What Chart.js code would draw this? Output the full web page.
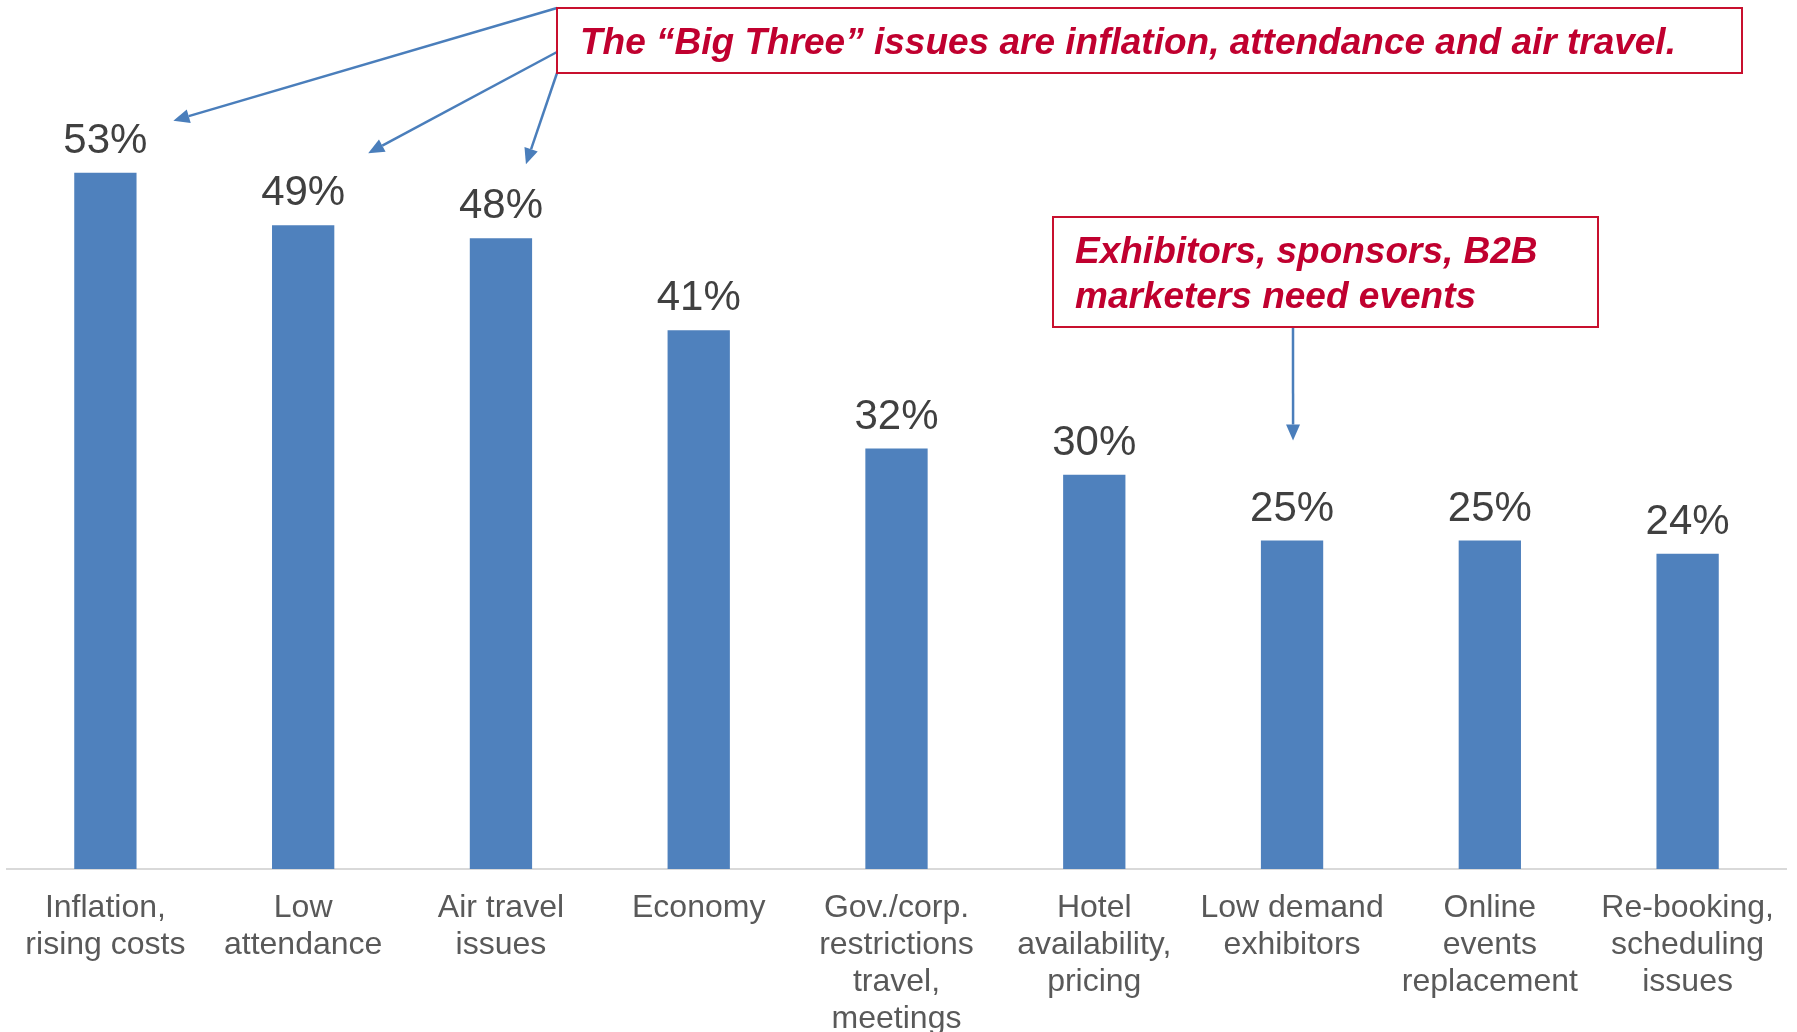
<!DOCTYPE html>
<html>
<head>
<meta charset="utf-8">
<script src="https://cdn.jsdelivr.net/npm/chart.js@4.4.1/dist/chart.umd.min.js"></script>
<style>
  html, body { margin: 0; padding: 0; background: #fff; }
  canvas { display: block; }
</style>
</head>
<body>
<canvas id="issuesChart" width="1797" height="1032"></canvas>
<script>
// Top issues facing events (share of respondents, %)
var categories = [
    ['Inflation,', 'rising costs'],
    ['Low', 'attendance'],
    ['Air travel', 'issues'],
    'Economy',
    ['Gov./corp.', 'restrictions', 'travel,', 'meetings'],
    ['Hotel', 'availability,', 'pricing'],
    ['Low demand', 'exhibitors'],
    ['Online', 'events', 'replacement'],
    ['Re-booking,', 'scheduling', 'issues']
];
var shares = [53, 49, 48, 41, 32, 30, 25, 25, 24];

var bigThreeNote = ['The \u201CBig Three\u201D issues are inflation, attendance and air travel.'];
var exhibitorNote = ['Exhibitors, sponsors, B2B', 'marketers need events'];

var FONT = '"Liberation Sans", Arial, sans-serif';
var NOTE_RED = '#C0002F';
var ARROW_BLUE = '#4A7EBB';

// callout boxes, with arrows pointing at bars (offsets from the bar top)
var callouts = [
    {
        box: { x: 557, y: 8, w: 1185, h: 65 },
        lines: bigThreeNote, textX: 580, baselines: [54],
        arrows: [
            { from: [557, 8], bar: 0, dx: 68, dy: -52 },
            { from: [557, 52], bar: 1, dx: 65, dy: -72 },
            { from: [557, 73], bar: 2, dx: 25, dy: -74 }
        ]
    },
    {
        box: { x: 1053, y: 217, w: 545, h: 110 },
        lines: exhibitorNote, textX: 1075, baselines: [263, 308],
        arrows: [
            { from: [1293, 327], bar: 6, dx: 1, dy: -100 }
        ]
    }
];

function drawArrow(ctx, x1, y1, x2, y2) {
    var a = Math.atan2(y2 - y1, x2 - x1);
    var len = 16, half = 7;
    var bx = x2 - len * Math.cos(a), by = y2 - len * Math.sin(a);
    ctx.beginPath();
    ctx.moveTo(x1, y1);
    ctx.lineTo(bx, by);
    ctx.stroke();
    ctx.beginPath();
    ctx.moveTo(x2, y2);
    ctx.lineTo(bx + half * Math.sin(a), by - half * Math.cos(a));
    ctx.lineTo(bx - half * Math.sin(a), by + half * Math.cos(a));
    ctx.closePath();
    ctx.fill();
}

var valueLabels = {
    id: 'valueLabels',
    afterDatasetsDraw: function (chart) {
        var ctx = chart.ctx;
        var meta = chart.getDatasetMeta(0);
        ctx.save();
        ctx.font = '42px ' + FONT;
        ctx.fillStyle = '#404040';
        ctx.textAlign = 'center';
        ctx.textBaseline = 'alphabetic';
        meta.data.forEach(function (bar, i) {
            ctx.fillText(shares[i] + '%', bar.x, bar.y - 20);
        });
        ctx.restore();
    }
};

var calloutPlugin = {
    id: 'callouts',
    afterDraw: function (chart) {
        var ctx = chart.ctx;
        var meta = chart.getDatasetMeta(0);
        ctx.save();
        callouts.forEach(function (c) {
            ctx.strokeStyle = ARROW_BLUE;
            ctx.fillStyle = ARROW_BLUE;
            ctx.lineWidth = 2.5;
            c.arrows.forEach(function (a) {
                var bar = meta.data[a.bar];
                drawArrow(ctx, a.from[0], a.from[1], bar.x + a.dx, bar.y + a.dy);
            });
            ctx.fillStyle = '#ffffff';
            ctx.fillRect(c.box.x, c.box.y, c.box.w, c.box.h);
            ctx.strokeStyle = '#C8102E';
            ctx.lineWidth = 2;
            ctx.strokeRect(c.box.x, c.box.y, c.box.w, c.box.h);
            ctx.fillStyle = NOTE_RED;
            ctx.font = 'italic bold 37px ' + FONT;
            ctx.textAlign = 'left';
            ctx.textBaseline = 'alphabetic';
            c.lines.forEach(function (line, i) {
                ctx.fillText(line, c.textX, c.baselines[i]);
            });
        });
        ctx.restore();
    }
};

var ctx = document.getElementById('issuesChart').getContext('2d');
var chart = new Chart(ctx, {
    type: 'bar',
    data: {
        labels: categories,
        datasets: [{
            data: shares,
            backgroundColor: '#4F81BD',
            categoryPercentage: 1,
            barPercentage: 0.315
        }]
    },
    options: {
        responsive: false,
        animation: false,
        devicePixelRatio: 1,
        layout: {
            padding: { top: 80.7, left: 6.5, right: 10.5, bottom: 0 }
        },
        scales: {
            x: {
                grid: { display: false, drawTicks: false },
                border: { display: true, color: '#d9d9d9', width: 2 },
                ticks: {
                    color: '#595959',
                    font: { family: FONT, size: 32, lineHeight: 1.15 },
                    padding: 21,
                    maxRotation: 0,
                    autoSkip: false
                },
                afterFit: function (scale) { scale.height = 163; }
            },
            y: {
                display: false,
                min: 0,
                max: 60
            }
        },
        plugins: {
            legend: { display: false },
            tooltip: { enabled: false },
            title: { display: false }
        }
    },
    plugins: [valueLabels, calloutPlugin]
});
</script>
</body>
</html>
